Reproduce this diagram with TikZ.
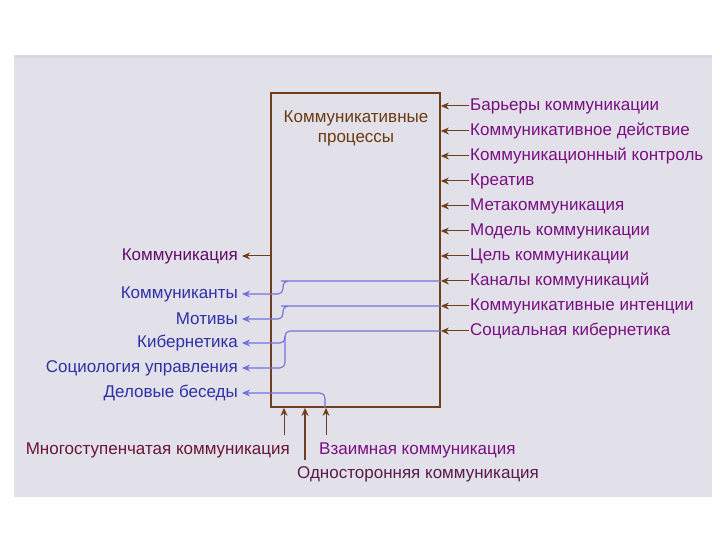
\documentclass[tikz,border=0pt]{standalone}
\usepackage{fontspec}
\setmainfont{Liberation Sans}
\usetikzlibrary{arrows.meta,calc}
\definecolor{panel}{HTML}{E2E1E9}
\definecolor{panelstrip}{HTML}{D8D7E4}
\definecolor{boxline}{HTML}{6E3F1C}
\definecolor{rlab}{HTML}{7A0E82}
\definecolor{blab}{HTML}{3030A8}
\definecolor{bline}{HTML}{7272DC}
\definecolor{titlec}{HTML}{6B3A12}
\definecolor{mlab}{HTML}{6A1535}
\definecolor{olab}{HTML}{5A1A4A}
\tikzset{
  lab/.style={font=\fontsize{17}{19}\selectfont, inner sep=1pt},
  rl/.style={lab, anchor=west, text=rlab},
  ll/.style={lab, anchor=east, text=blab},
  brar/.style={draw=boxline, line width=1pt, -{Stealth[length=8pt,width=7pt]}},
  blar/.style={draw=bline, line width=1.1pt, rounded corners=5pt, -{Stealth[length=8pt,width=7pt]}},
}
\begin{document}
\begin{tikzpicture}[x=1pt,y=1pt]
\useasboundingbox (0,0) rectangle (720,540);
\fill[white] (0,0) rectangle (720,540);
\fill[panel] (14,43) rectangle (712,485);
\fill[panelstrip] (14,482) rectangle (712,485);
% main box
\node[draw=boxline, line width=1.8pt, fill=panel, minimum width=169pt, minimum height=314pt, inner sep=0pt] (box) at (355.5,290) {};
\node[lab, text=titlec, align=center, anchor=north] (title) at (356,430) {Коммуникативные\\[1pt]процессы};
% right labels
\foreach \n/\t/\y in {r1/Барьеры коммуникации/105, r2/Коммуникативное действие/130, r3/Коммуникационный контроль/155, r4/Креатив/180, r5/Метакоммуникация/205, r6/Модель коммуникации/230, r7/Цель коммуникации/255, r8/Каналы коммуникаций/280, r9/Коммуникативные интенции/305, r10/Социальная кибернетика/330}{
  \node[rl] (\n) at (469,539-\y) {\t};
  \draw[brar] (\n.west) -- (box.east |- \n.west);
}
% left labels
\node[lab, anchor=east, text=rlab!80!black] (l0) at (239,284) {Коммуникация};
\draw[brar, shorten >=3pt] (box.west |- l0.east) -- (l0.east);
\node[ll] (l1) at (239,246) {Коммуниканты};
\node[ll] (l2) at (239,221) {Мотивы};
\node[ll] (l3) at (239,197) {Кибернетика};
\node[ll] (l4) at (239,172) {Социология управления};
\node[ll] (l5) at (239,147) {Деловые беседы};
% blue connectors
\draw[blar, shorten >=3pt] (box.east |- r8.west) -- (286,259) -- (283,259) -- (283,246) -- (l1.east);
\draw[blar, shorten >=3pt] (box.east |- r9.west) -- (286,234) -- (283,234) -- (283,221) -- (l2.east);
\draw[blar, shorten >=3pt] (box.east |- r10.west) -- (285,209) -- (285,172) -- (l4.east);
\draw[blar, shorten >=3pt] (285,204) -- (285,197) -- (l3.east);
\draw[blar, shorten >=3pt] (box.south -| 325,0) -- (325,147) -- (l5.east);
% bottom labels
\node[lab, anchor=east, text=mlab] (b1) at (291,90) {Многоступенчатая коммуникация};
\node[lab, anchor=west, text=rlab] (b3) at (318,90) {Взаимная коммуникация};
\node[lab, anchor=west, text=olab] (b2) at (296,66) {Односторонняя коммуникация};
\coordinate (c1) at (284,105);
\coordinate (c2) at (305,80);
\coordinate (c3) at (326,105);
\draw[brar] (c1) -- (box.south -| c1);
\draw[brar, line width=1.8pt] (c2) -- (box.south -| c2);
\draw[brar] (c3) -- (box.south -| c3);
\end{tikzpicture}
\end{document}
